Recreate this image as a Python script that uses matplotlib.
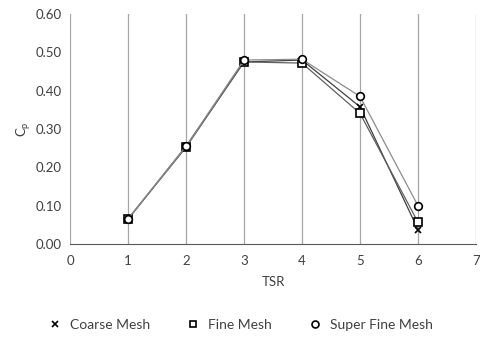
import matplotlib.pyplot as plt

plt.rcParams['font.family'] = ['Lato', 'DejaVu Sans']

# Data
tsr = [1, 2, 3, 4, 5, 6]
coarse = [0.065, 0.255, 0.475, 0.480, 0.358, 0.038]
fine = [0.065, 0.252, 0.475, 0.472, 0.341, 0.057]
super_fine = [0.066, 0.255, 0.480, 0.482, 0.385, 0.100]

fig = plt.figure(figsize=(4.81, 3.39), dpi=100)
ax = fig.add_axes([0.1455, 0.280, 0.8441, 0.6787])

ax.plot(tsr, coarse, color='#404040', lw=0.9, marker='x', ms=5, mec='black',
        mew=1.2, label='Coarse Mesh', zorder=3)
ax.plot(tsr, fine, color='#606060', lw=0.9, marker='s', ms=5.5, mfc='white',
        mec='black', mew=1.2, label='Fine Mesh', zorder=4)
ax.plot(tsr, super_fine, color='#8c8c8c', lw=0.9, marker='o', ms=5.5, mfc='white',
        mec='black', mew=1.2, label='Super Fine Mesh', zorder=5)

ax.set_xlim(0, 7)
ax.set_ylim(0, 0.6)
ax.set_xticks(range(0, 8))
ax.set_yticks([0, 0.1, 0.2, 0.3, 0.4, 0.5, 0.6])
ax.set_yticklabels([f'{v:.2f}' for v in ax.get_yticks()])
ax.tick_params(length=0, labelsize=9.5, colors='#404040', pad=8)
ax.tick_params(axis='y', pad=6)

ax.grid(True, axis='x', color='#a6a6a6', lw=0.9)
ax.set_axisbelow(True)
for s in ['top', 'right', 'left']:
    ax.spines[s].set_visible(False)
ax.spines['bottom'].set_color('#595959')

ax.set_xlabel('TSR', fontsize=9.5, color='#404040', labelpad=6)
ax.set_ylabel(r'C$_\mathregular{p}$', fontsize=9.5, color='#404040', labelpad=2)

fig.legend(loc='lower center', bbox_to_anchor=(0.5, -0.012), ncol=3, frameon=False,
           fontsize=10, handlelength=1.0, handletextpad=0.6, columnspacing=2.6,
           labelcolor='#404040')
# legend handles: markers only
leg = fig.legends[0]
for h in leg.legend_handles:
    h.set_linestyle('None')
    h.set_markersize(5)

fig.savefig('out.png', dpi=100)
